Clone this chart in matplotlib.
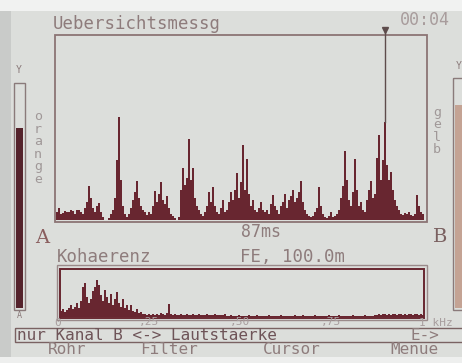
import numpy as np
import matplotlib
matplotlib.use('Agg')
import matplotlib.pyplot as plt
from matplotlib.patches import Rectangle

# levels of the overview measurement, one value per 2 px column of the LCD
level = [8, 12, 6, 7, 9, 8, 8, 10, 9, 6, 10, 10, 8, 6, 12, 18, 34, 22, 12, 8,
         14, 17, 8, 3, 0, 0, 2, 6, 10, 22, 60, 103, 40, 14, 6, 3, 6, 12, 20, 28,
         39, 22, 14, 10, 8, 5, 8, 6, 14, 29, 18, 26, 38, 20, 16, 24, 12, 6, 4, 2,
         0, 3, 30, 52, 35, 42, 81, 40, 52, 22, 14, 10, 6, 4, 8, 14, 28, 18, 33, 14,
         8, 6, 12, 20, 8, 10, 18, 28, 20, 30, 47, 22, 38, 75, 30, 61, 26, 14, 20, 10,
         8, 12, 18, 10, 8, 10, 6, 16, 25, 14, 10, 6, 14, 18, 26, 12, 20, 24, 30, 18,
         22, 28, 39, 18, 10, 6, 4, 3, 4, 8, 12, 33, 14, 6, 3, 2, 4, 8, 3, 4,
         6, 10, 22, 34, 69, 40, 20, 14, 28, 61, 30, 14, 18, 10, 8, 20, 30, 39, 22, 26,
         62, 85, 40, 60, 98, 55, 40, 48, 30, 20, 14, 10, 6, 5, 7, 6, 8, 5, 4, 6,
         25, 14, 8, 6]
cursor_bin = 164

# coherence spectrum 0 .. 1 kHz
coherence = [6, 8, 5, 7, 9, 12, 8, 10, 14, 9, 16, 30, 34, 20, 14, 18, 26, 30, 37, 32,
             22, 16, 27, 20, 14, 23, 12, 18, 25, 14, 10, 18, 9, 12, 7, 12, 6, 5, 8, 4,
             5, 3, 3, 2, 3, 2, 3, 2, 3, 2, 4, 3, 2, 4, 13, 3, 2, 3, 2, 2,
             3, 2, 2, 3, 2, 2, 3, 2, 2, 3, 2, 2, 2, 3, 2, 2, 2, 3, 2, 2,
             2, 2, 3, 1, 1, 2, 1, 1, 1, 2, 1, 1, 1, 1, 2, 1, 1, 1, 2, 1,
             1, 1, 1, 1, 2, 1, 1, 1, 1, 1, 2, 1, 1, 1, 1, 1, 1, 2, 1, 1,
             1, 2, 1, 1, 1, 1, 1, 2, 1, 1, 1, 1, 1, 1, 2, 1, 1, 1, 1, 2,
             1, 1, 1, 1, 1, 1, 2, 1, 1, 1, 1, 1, 2, 1, 1, 1, 1, 2, 2, 3,
             2, 3, 3, 2, 3, 2, 3, 3, 2, 3, 3, 2, 3, 2, 3, 3, 2, 3, 3, 2,
             3, 2]
freq_ticks = [0, 0.25, 0.5, 0.75, 1.0]
freq_labels = ['0', ',25', ',50', ',75', '1 kHz']

title = 'Uebersichtsmessg'
clock = '00:04'
delay = '87ms'
menu = ['Rohr', 'Filter', 'Cursor', 'Menue']

bg = '#dcdedb'
maroon = '#682630'
frame = '#8c7474'
txt = '#8e7c7c'
mono = 'DejaVu Sans Mono'

W, H = 462, 363
fig = plt.figure(figsize=(W / 100, H / 100), dpi=100, facecolor=bg)

def px_axes(x0, y0, x1, y1):
    # axes placed by pixel box (top-left origin)
    return fig.add_axes([x0 / W, 1 - y1 / H, (x1 - x0) / W, (y1 - y0) / H])

# main histogram
ax = px_axes(56, 35, 424, 220)
ax.bar(np.arange(len(level)), level, width=1.0, align='edge', color=maroon, linewidth=0)
ax.set_xlim(0, len(level))
ax.set_ylim(0, 185)
ax.axis('off')
cx = cursor_bin + 0.5
ax.plot([cx, cx], [level[cursor_bin], 190], color='#5e4c4c', lw=1.0, clip_on=False)
ax.plot([cx], [190], marker='v', ms=4, color='#5e4c4c', clip_on=False)

# coherence histogram
ax2 = px_axes(60, 270, 424, 317)
ax2.bar(np.arange(len(coherence)), coherence, width=1.0, align='edge', color=maroon, linewidth=0)
ax2.set_xlim(0, len(coherence))
ax2.set_ylim(0, 47)
ax2.axis('off')

# overlay for frames and texts, pixel coordinates
ov = fig.add_axes([0, 0, 1, 1], zorder=-1)
ov.set_xlim(0, W)
ov.set_ylim(H, 0)
ov.axis('off')

ov.add_patch(Rectangle((0, 0), W, 11, color='#f1f2f1', lw=0))
ov.add_patch(Rectangle((0, 11), 11, H, color='#c9cbc9', lw=0))
ov.add_patch(Rectangle((0, 357), W, 6, color='#eeefee', lw=0))

# main frame
ov.add_patch(Rectangle((55, 35), 372, 187, fill=False, ec=frame, lw=1.3))
# coherence frames
ov.add_patch(Rectangle((57, 265), 370, 55, fill=False, ec='#9a8a8a', lw=1.0))
ov.add_patch(Rectangle((60, 269), 364, 49, fill=False, ec=maroon, lw=1.4))

# level meters
ov.add_patch(Rectangle((14, 83), 11, 227, fill=False, ec='#8a7a7a', lw=1.0))
ov.add_patch(Rectangle((16, 128), 7, 180, color='#55232c', lw=0))
ov.add_patch(Rectangle((453, 78), 14, 232, fill=False, ec='#8a7a7a', lw=1.0))
ov.add_patch(Rectangle((455, 105), 12, 203, color='#c4a394', lw=0))
ov.text(19, 70, 'Y', fontsize=7, color='#8a7a7a', ha='center', va='center', family=mono)
ov.text(19, 315, 'A', fontsize=6, color='#8a7a7a', ha='center', va='center', family=mono)
ov.text(459, 66, 'Y', fontsize=7, color='#8a7a7a', ha='center', va='center', family=mono)

# header
ov.text(53, 24, title, fontsize=12.5, color=txt, ha='left', va='center', family=mono)
ov.text(450, 20, clock, fontsize=12, color='#a89c9c', ha='right', va='center', family=mono)

# channel labels
ov.text(38, 148, '\n'.join('orange'), fontsize=9.5, color='#a09898', ha='center',
        va='center', family=mono, linespacing=0.95)
ov.text(437, 131, '\n'.join('gelb'), fontsize=9.5, color='#a09898', ha='center',
        va='center', family=mono, linespacing=0.95)
ov.text(42, 238, 'A', fontsize=14, color='#8a5e5e', ha='center', va='center', family='DejaVu Serif')
ov.text(440, 237, 'B', fontsize=14, color='#7a6060', ha='center', va='center', family='DejaVu Serif')
ov.text(261, 232, delay, fontsize=12, color=txt, ha='center', va='center', family=mono)

# coherence header and axis
ov.text(57, 257, 'Kohaerenz', fontsize=12.5, color=txt, ha='left', va='center', family=mono)
ov.text(240, 257, 'FE, 100.0m', fontsize=12.5, color=txt, ha='left', va='center', family=mono)
for f, lab in zip(freq_ticks, freq_labels):
    xp = 58 + f * 364
    if lab.startswith('1'):
        ov.text(xp - 3, 322.5, lab, fontsize=8, color='#a89e9e', ha='left', va='center', family=mono)
    else:
        ov.text(xp, 322.5, lab, fontsize=8, color='#a89e9e', ha='center', va='center', family=mono)

# status line
ov.add_patch(Rectangle((15, 328), 460, 14, fill=False, ec='#7a6262', lw=1.0))
ov.text(17, 335, 'nur Kanal B <-> Lautstaerke', fontsize=11.5, color='#6e5458',
        ha='left', va='center', family=mono)
ov.text(410, 335, 'E->', fontsize=11.5, color='#8e7c7c', ha='left', va='center', family=mono)

# soft keys
for xp, lab in zip([48, 140, 263, 390], menu):
    ov.text(xp, 350, lab, fontsize=11.5, color=txt, ha='left', va='center', family=mono)

fig.savefig('out.png', dpi=100, facecolor=bg)
